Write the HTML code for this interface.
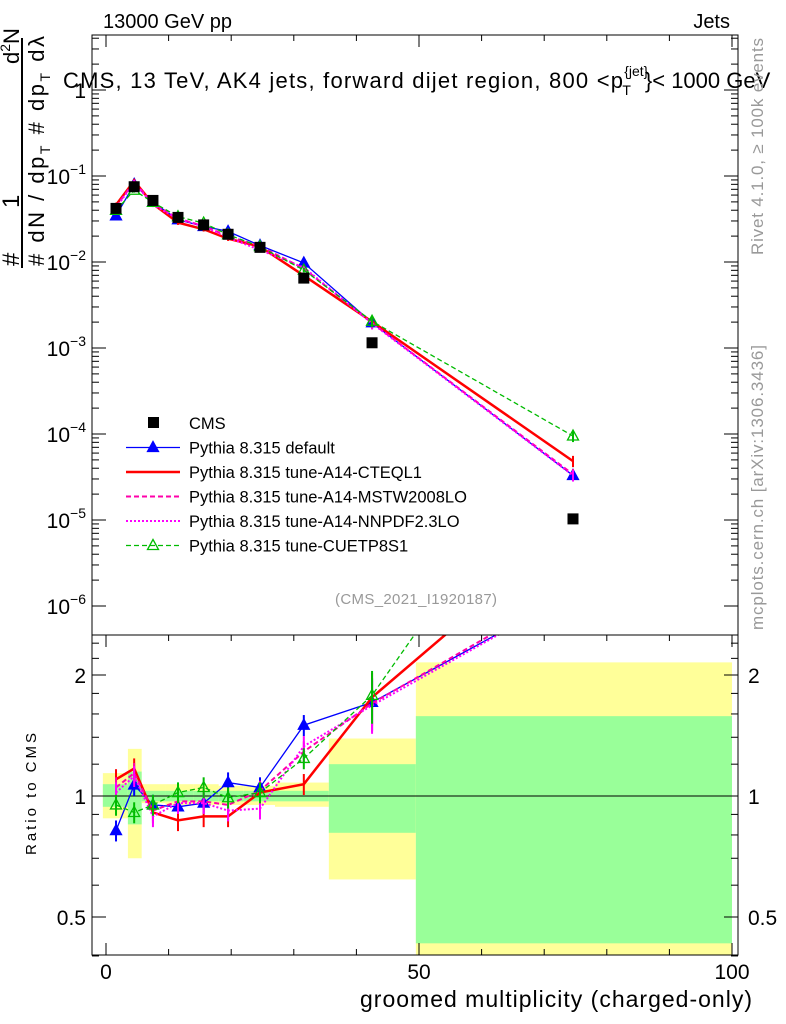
<!DOCTYPE html>
<html><head><meta charset="utf-8"><style>
html,body{margin:0;padding:0;background:#fff}
svg{display:block;font-family:"Liberation Sans",sans-serif}
</style></head><body>
<svg id="c" width="786" height="1024" viewBox="0 0 786 1024">
<g id="bands"></g><g id="grid"></g><g id="marks"></g><g id="axes"></g>
<text x="103" y="28" font-size="20" textLength="129">13000 GeV pp</text>
<text x="730" y="28" font-size="20" text-anchor="end">Jets</text>
<text x="63" y="88" font-size="22"><tspan textLength="560">CMS, 13 TeV, AK4 jets, forward dijet region, 800 &lt;p</tspan><tspan font-size="14" dy="-12">{jet}</tspan><tspan font-size="14" dx="-26" dy="19">T</tspan><tspan dx="14" dy="-7">}&lt; 1000 GeV</tspan></text>
<text x="416" y="604" font-size="15" fill="#999" text-anchor="middle" textLength="162">(CMS_2021_I1920187)</text>
<text transform="translate(763,255) rotate(-90)" font-size="17" fill="#999" textLength="217">Rivet 4.1.0, ≥ 100k events</text>
<text transform="translate(763,630) rotate(-90)" font-size="17" fill="#999" textLength="285">mcplots.cern.ch [arXiv:1306.3436]</text>
<g font-size="24">
<line x1="22" y1="38" x2="22" y2="268" stroke="#000" stroke-width="2"/>
<text transform="translate(19,266) rotate(-90)">#</text>
<text transform="translate(19,208) rotate(-90)">1</text>
<text transform="translate(19,64) rotate(-90)" font-size="22">d<tspan font-size="14" dy="-9">2</tspan><tspan dy="9">N</tspan></text>
<text transform="translate(44,266) rotate(-90)" font-size="22" textLength="230">#  dN / dp<tspan font-size="14" dy="6">T</tspan><tspan dy="-6">  #  dp</tspan><tspan font-size="14" dy="6">T</tspan><tspan dy="-6">  dλ</tspan></text>
</g>
<text transform="translate(36,794) rotate(-90)" font-size="15" text-anchor="middle" textLength="122">Ratio to CMS</text>
<text x="752" y="1007" font-size="23" text-anchor="end" textLength="392">groomed multiplicity (charged-only)</text>
<g id="legend"></g>
</svg>
<script>
const xs=[1.6,4.5,7.5,11.5,15.6,19.5,24.6,31.6,42.5,74.6];
const cms=[0.042,0.075,0.052,0.033,0.027,0.021,0.0148,0.0065,0.00115,1.03e-5];
const rDefault=[0.82,1.065,0.95,0.94,0.96,1.08,1.05,1.50,1.71,3.2];
const rCteq=[1.10,1.17,0.91,0.87,0.89,0.89,1.02,1.07,1.76,4.7];
const rMstw=[1.05,1.14,0.92,0.97,0.97,0.95,1.03,1.29,1.70,3.3];
const rNnpdf=[1.02,1.12,0.89,0.96,0.96,0.92,0.93,1.33,1.68,3.2];
const rCuet=[0.95,0.91,0.95,1.02,1.05,0.99,1.02,1.24,1.78,9.2];
const binEdges=[-0.5,3.5,5.7,9.5,14,18,22,27,35.6,49.5,100];
const yelLo=[0.88,0.70,0.96,0.95,0.95,0.95,0.95,0.94,0.62,0.3];
const yelHi=[1.14,1.31,1.07,1.07,1.07,1.06,1.06,1.08,1.39,2.15];
const grnLo=[0.94,0.85,0.97,0.97,0.97,0.97,0.97,0.97,0.81,0.43];
const grnHi=[1.07,1.15,1.03,1.03,1.03,1.03,1.03,1.03,1.20,1.58];
const xTicks=[0,50,100];
const yTicks=[-6,-5,-4,-3,-2,-1,0];
const rTicks=[0.5,1,2];

const NS="http://www.w3.org/2000/svg";
const L=92,R=738,T=35,MB=635,RB=955;
const X=v=>106+v*6.26;
const Y=v=>90-86*Math.log10(v);
const RY=v=>796-121*Math.log2(v);
function mk(tag,attrs,parent){const e=document.createElementNS(NS,tag);for(const k in attrs)e.setAttribute(k,attrs[k]);(parent||document.getElementById('marks')).appendChild(e);return e;}

const defs=mk('defs',{},document.getElementById('c'));
const cp1=mk('clipPath',{id:'cm'},defs);mk('rect',{x:L,y:T,width:R-L,height:MB-T},cp1);
const cp2=mk('clipPath',{id:'cr'},defs);mk('rect',{x:L,y:MB,width:R-L,height:RB-MB},cp2);

const bg=document.getElementById('bands');bg.setAttribute('clip-path','url(#cr)');
for(let i=0;i<binEdges.length-1;i++){
 const y=mk('rect',{x:X(binEdges[i]),y:RY(yelHi[i]),width:X(binEdges[i+1])-X(binEdges[i]),height:RY(yelLo[i])-RY(yelHi[i]),fill:'#ffff99'},bg);
 
 
 const g=mk('rect',{x:X(binEdges[i]),y:RY(grnHi[i]),width:X(binEdges[i+1])-X(binEdges[i]),height:RY(grnLo[i])-RY(grnHi[i]),fill:'#99ff99'},bg);
 
 
}
mk('line',{x1:L,y1:RY(1),x2:R,y2:RY(1),stroke:'#000','stroke-width':1},bg);

const ax=document.getElementById('axes');
mk('rect',{x:L,y:T,width:R-L,height:RB-T,fill:'none',stroke:'#000','stroke-width':1},ax);
mk('line',{x1:L,y1:MB,x2:R,y2:MB,stroke:'#000'},ax);
for(let v=0;v<=100;v+=10){const big=v%50==0;
 mk('line',{x1:X(v),y1:RB,x2:X(v),y2:RB-(big?12:6),stroke:'#000'},ax);
 mk('line',{x1:X(v),y1:T,x2:X(v),y2:T+(big?12:6),stroke:'#000'},ax);
 mk('line',{x1:X(v),y1:MB,x2:X(v),y2:MB+(big?12:6),stroke:'#000'},ax);}
xTicks.forEach(v=>{const t=mk('text',{x:X(v),y:979,'font-size':21,'text-anchor':'middle'},ax);t.textContent=v;
 
 });
yTicks.forEach(p=>{
 for(let m=1;m<10;m++){const yy=Y(m*Math.pow(10,p));if(yy<T||yy>MB)continue;const len=m==1?14:7;
  mk('line',{x1:L,y1:yy,x2:L+len,y2:yy,stroke:'#000'},ax);mk('line',{x1:R,y1:yy,x2:R-len,y2:yy,stroke:'#000'},ax);}
 const t=mk('text',{x:86,y:Y(Math.pow(10,p))+8,'font-size':21,'text-anchor':'end'},ax);
 
 
 if(p==0)t.textContent='1';else{t.textContent='10';const s=mk('tspan',{'font-size':14,dy:-10},t);s.textContent=String(p).replace('-','\u2212');}
});
[0.4,0.5,0.6,0.7,0.8,0.9,1,1.2,1.4,1.6,1.8,2,2.2,2.4].forEach(v=>{const yy=RY(v);const big=[0.5,1,2].includes(v);const len=big?14:7;
 mk('line',{x1:L,y1:yy,x2:L+len,y2:yy,stroke:'#000'},ax);mk('line',{x1:R,y1:yy,x2:R-len,y2:yy,stroke:'#000'},ax);});
rTicks.forEach(v=>{
 const t=mk('text',{x:86,y:RY(v)+8,'font-size':21,'text-anchor':'end'},ax);t.textContent=v;
 
 
 const t2=mk('text',{x:748,y:RY(v)+8,'font-size':21},ax);t2.textContent=v;
 
 });

const series=[
 {name:'pythia-default',r:rDefault,col:'#0000ff',w:1.3,dash:'',mark:'tri'},
 {name:'pythia-a14-cteql1',r:rCteq,col:'#ff0000',w:2.5,dash:'',mark:''},
 {name:'pythia-a14-mstw2008lo',r:rMstw,col:'#ff00aa',w:2,dash:'5,3',mark:''},
 {name:'pythia-a14-nnpdf23lo',r:rNnpdf,col:'#ff00ff',w:2,dash:'2,2',mark:''},
 {name:'pythia-cuetp8s1',r:rCuet,col:'#00bb00',w:1.3,dash:'5,3',mark:'otri'}];
const gm=mk('g',{'clip-path':'url(#cm)'});const gr=mk('g',{'clip-path':'url(#cr)'});
function tri(g,x,y,col,open){return mk('polygon',{points:`${x},${y-6} ${x-5.5},${y+4} ${x+5.5},${y+4}`,fill:open?'none':col,stroke:col,'stroke-width':1.3},g);}
series.forEach(s=>{
 const pm=xs.map((x,i)=>`${X(x)},${Y(cms[i]*s.r[i])}`).join(' ');
 const pr=xs.map((x,i)=>`${X(x)},${RY(s.r[i])}`).join(' ');
 const l1=mk('polyline',{points:pm,fill:'none',stroke:s.col,'stroke-width':s.w,'stroke-dasharray':s.dash},gm);
 
 
 const l2=mk('polyline',{points:pr,fill:'none',stroke:s.col,'stroke-width':s.w,'stroke-dasharray':s.dash},gr);
 
 
 xs.forEach((x,i)=>{const e=i>=8?0.15:0.06;
  mk('line',{x1:X(x),y1:RY(s.r[i]*(1+e)),x2:X(x),y2:RY(s.r[i]*(1-e)),stroke:s.col,'stroke-width':2},gr);
  mk('line',{x1:X(x),y1:Y(cms[i]*s.r[i]*(1+e)),x2:X(x),y2:Y(cms[i]*s.r[i]*(1-e)),stroke:s.col,'stroke-width':2},gm);
  if(s.mark){const m1=tri(gm,X(x),Y(cms[i]*s.r[i]),s.col,s.mark=='otri');
   
   
   const m2=tri(gr,X(x),RY(s.r[i]),s.col,s.mark=='otri');
   
   }
 });
});
xs.forEach((x,i)=>{const r=mk('rect',{x:X(x)-5.5,y:Y(cms[i])-5.5,width:11,height:11,fill:'#000'},gm);
 
 });

const lg=document.getElementById('legend');
const labels=['CMS','Pythia 8.315 default','Pythia 8.315 tune-A14-CTEQL1','Pythia 8.315 tune-A14-MSTW2008LO','Pythia 8.315 tune-A14-NNPDF2.3LO','Pythia 8.315 tune-CUETP8S1'];
labels.forEach((lab,i)=>{const y=423+i*24.5;
 const g=mk('g',{},lg);
 
 
 if(i==0)mk('rect',{x:148,y:y-6,width:11,height:11,fill:'#000'},g);
 else{const s=series[i-1];mk('line',{x1:126,y1:y,x2:180,y2:y,stroke:s.col,'stroke-width':s.w,'stroke-dasharray':s.dash},g);
  if(s.mark)tri(g,153,y,s.col,s.mark=='otri');}
 const t=mk('text',{x:189,y:y+6,'font-size':16.5},g);t.textContent=lab;});
</script>
</body></html>
